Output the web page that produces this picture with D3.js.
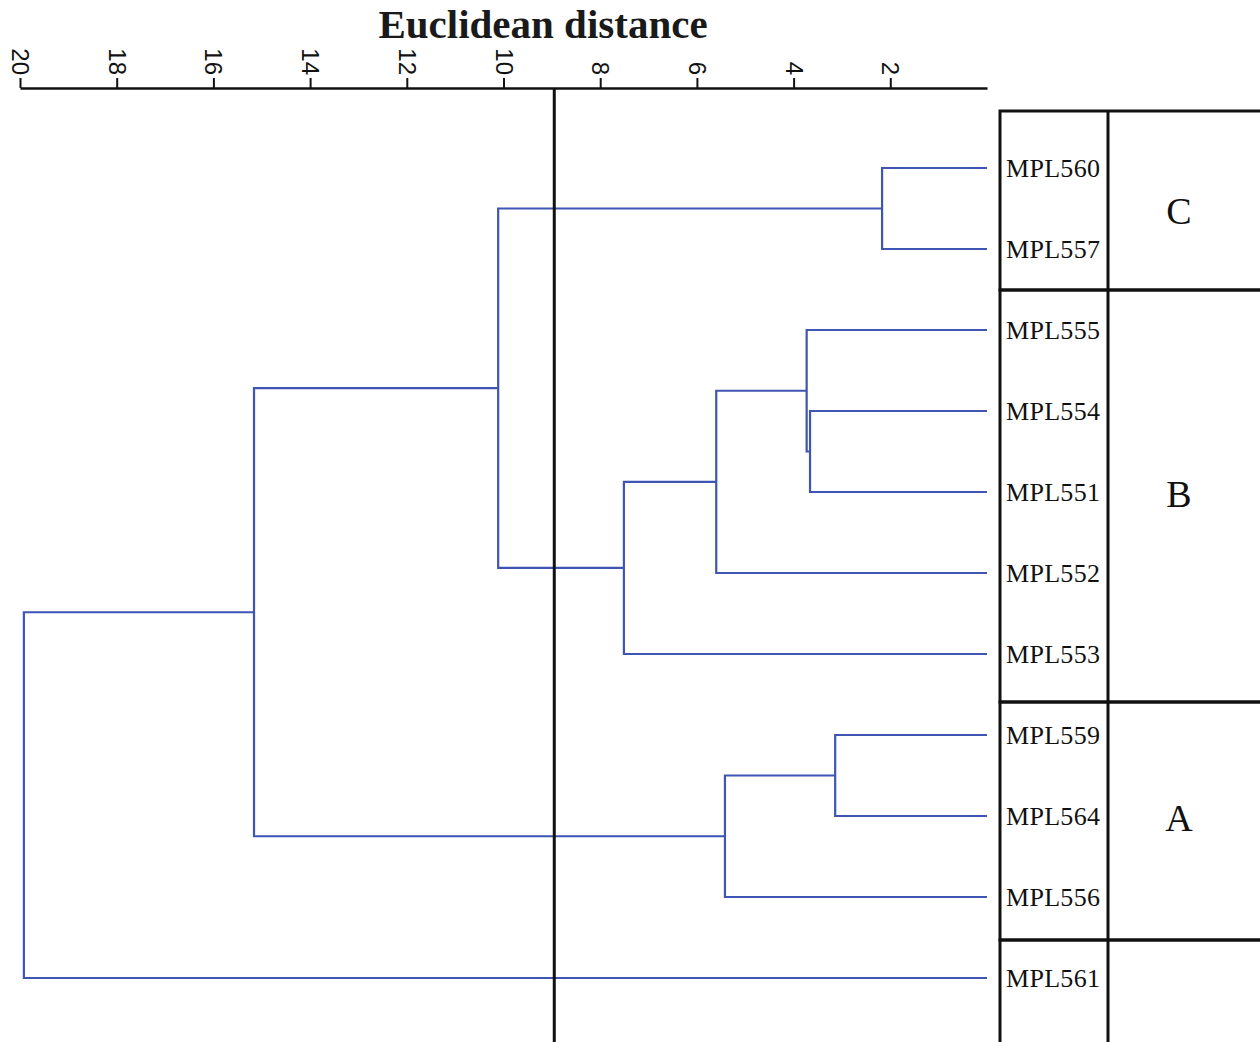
<!DOCTYPE html>
<html>
<head>
<meta charset="utf-8">
<script src="https://cdn.jsdelivr.net/npm/d3@7"></script>
<style>
  body { margin: 0; background: #fff; }
</style>
</head>
<body>
<div id="chart"></div>
<script>
// leaves, top to bottom
const leaves = ["MPL560", "MPL557", "MPL555", "MPL554", "MPL551", "MPL552", "MPL553", "MPL559", "MPL564", "MPL556", "MPL561"];
// merges: [new cluster id, child a, child b, distance]
const merges = [
  ["c1", "MPL560", "MPL557", 2.17],
  ["c2", "MPL559", "MPL564", 3.14],
  ["c3", "MPL554", "MPL551", 3.66],
  ["c4", "MPL555", "c3", 3.73],
  ["c5", "c2", "MPL556", 5.42],
  ["c6", "c4", "MPL552", 5.60],
  ["c7", "c6", "MPL553", 7.51],
  ["c8", "c1", "c7", 10.11],
  ["c9", "c8", "c5", 15.16],
  ["c10", "c9", "MPL561", 19.92]
];
const cutoff = 8.95;
const tickValues = [20, 18, 16, 14, 12, 10, 8, 6, 4, 2];
// groups: name, first leaf, last leaf
const groupNames = ["C", "B", "A", ""];
const groupFirst = ["MPL560", "MPL555", "MPL559", "MPL561"];
const groupLast = ["MPL557", "MPL553", "MPL556", "MPL561"];

const W = 1260, H = 1042;
const svg = d3.select("#chart").append("svg")
  .attr("width", W)
  .attr("height", H);

const x = d3.scaleLinear().domain([20, 0]).range([20, 987]);
const y = d3.scalePoint().domain(leaves).range([168, 978]);

// title
svg.append("text")
  .attr("x", 543)
  .attr("y", 38)
  .attr("text-anchor", "middle")
  .attr("font-family", "'Liberation Serif', 'Times New Roman', serif")
  .attr("font-weight", "bold")
  .attr("font-size", 41)
  .attr("fill", "#1a1a1a")
  .text("Euclidean distance");

// axis
const axis = svg.append("g")
  .attr("transform", "translate(0,88)")
  .call(d3.axisTop(x).tickValues(tickValues).tickSize(10).tickSizeOuter(0));
axis.select(".domain").attr("stroke", "#111").attr("stroke-width", 2.5);
axis.selectAll(".tick line").attr("stroke", "#111").attr("stroke-width", 2);
axis.selectAll(".tick text")
  .attr("transform", "rotate(90)")
  .attr("x", -13)
  .attr("y", 0)
  .attr("dy", "0.35em")
  .attr("text-anchor", "end")
  .attr("font-family", "'Liberation Sans', Arial, sans-serif")
  .attr("font-size", 24)
  .attr("fill", "#111");

// build node positions
const pos = {};
leaves.forEach(l => { pos[l] = { x: x(0), y: y(l) }; });
const links = [];
merges.forEach(([id, a, b, d]) => {
  const xa = x(d);
  const pa = pos[a], pb = pos[b];
  links.push([[pa.x, pa.y], [xa, pa.y], [xa, pb.y], [pb.x, pb.y]]);
  pos[id] = { x: xa, y: (pa.y + pb.y) / 2 };
});

const line = d3.line();
svg.append("g")
  .selectAll("path")
  .data(links)
  .join("path")
  .attr("d", line)
  .attr("fill", "none")
  .attr("stroke", "#3f55b3")
  .attr("stroke-width", 2.2)
  .attr("stroke-linejoin", "miter");

// cutoff line
svg.append("line")
  .attr("x1", x(cutoff)).attr("x2", x(cutoff))
  .attr("y1", 88).attr("y2", H)
  .attr("stroke", "#111")
  .attr("stroke-width", 3);

// table of groups
const tLeft = 1000, tMid = 1108, tRight = 1262;
const rowLines = [111, 290, 702, 940, H + 2];
const table = svg.append("g");
const bounds = groupNames.map((g, i) => ({
  name: g,
  top: rowLines[i],
  bottom: rowLines[i + 1],
  mid: (y(groupFirst[i]) + y(groupLast[i])) / 2
}));

table.selectAll("rect")
  .data(bounds)
  .join("rect")
  .attr("x", tLeft)
  .attr("y", d => d.top)
  .attr("width", tRight - tLeft)
  .attr("height", d => d.bottom - d.top)
  .attr("fill", "none")
  .attr("stroke", "#111")
  .attr("stroke-width", 3);

table.append("line")
  .attr("x1", tMid).attr("x2", tMid)
  .attr("y1", 111).attr("y2", H + 2)
  .attr("stroke", "#111")
  .attr("stroke-width", 3);

table.selectAll("text.group")
  .data(bounds)
  .join("text")
  .attr("class", "group")
  .attr("x", 1179)
  .attr("y", d => d.mid + 2)
  .attr("dy", "0.35em")
  .attr("text-anchor", "middle")
  .attr("font-family", "'Liberation Serif', 'Times New Roman', serif")
  .attr("font-size", 38)
  .attr("fill", "#111")
  .text(d => d.name);

// leaf labels
svg.append("g")
  .selectAll("text")
  .data(leaves)
  .join("text")
  .attr("x", 1006)
  .attr("y", d => y(d))
  .attr("dy", "0.35em")
  .attr("font-family", "'Liberation Serif', 'Times New Roman', serif")
  .attr("font-size", 26)
  .attr("letter-spacing", 0.3)
  .attr("fill", "#111")
  .text(d => d);
</script>
</body>
</html>
